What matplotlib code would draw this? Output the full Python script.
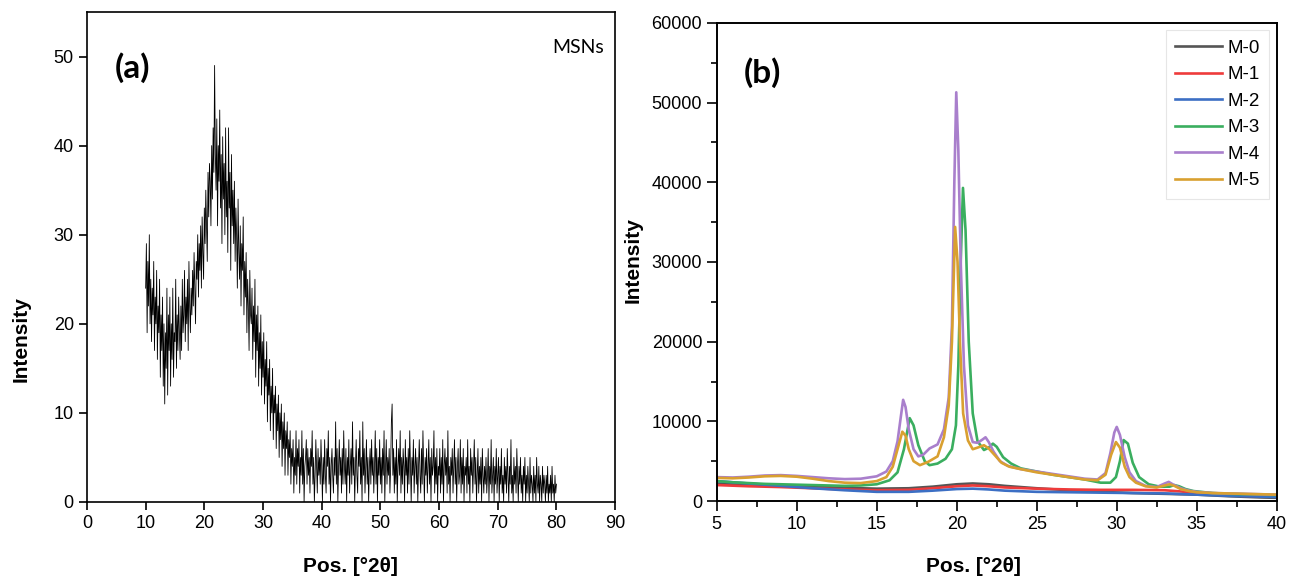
import matplotlib
matplotlib.use("Agg")
import matplotlib.pyplot as plt
import numpy as np
from matplotlib.ticker import MultipleLocator

plt.rcParams['font.family'] = ['Liberation Sans', 'DejaVu Sans']

# ---- (a) MSNs pattern, 10-80 deg at 0.125 deg steps
msn_start, msn_step = 10.0, 0.125
msn_int = [
    24, 29, 19, 27, 22, 30, 20, 25, 18, 24, 21, 27, 17, 23, 20, 26,   # 10-12
    16, 22, 19, 25, 14, 21, 17, 23, 13, 20, 11, 19, 15, 24, 12, 21,   # 12-14
    17, 23, 13, 20, 16, 24, 14, 19, 18, 25, 15, 21, 17, 23, 19, 16,   # 14-16
    22, 17, 25, 19, 21, 26, 18, 23, 20, 25, 17, 27, 22, 19, 24, 21,   # 16-18
    26, 22, 28, 24, 20, 27, 25, 30, 23, 29, 26, 31, 24, 32, 28, 25,   # 18-20
    33, 29, 35, 31, 27, 37, 32, 38, 36, 31, 40, 34, 42, 37, 49, 39,   # 20-22
    35, 43, 31, 40, 36, 44, 33, 39, 29, 41, 34, 38, 30, 42, 32, 36,   # 22-24
    28, 42, 33, 37, 26, 39, 31, 35, 29, 36, 27, 33, 30, 24, 34, 28,   # 24-26
    25, 31, 22, 29, 26, 32, 21, 27, 23, 28, 19, 25, 22, 17, 26, 21,   # 26-28
    20, 24, 16, 22, 18, 25, 14, 21, 17, 22, 13, 19, 15, 21, 12, 18,   # 28-30
    14, 19, 11, 16, 13, 18, 9, 15, 12, 16, 8, 13, 10, 15, 7, 12,      # 30-32
    10, 13, 6, 11, 8, 12, 5, 10, 7, 11, 4, 9, 6, 10, 3, 8,            # 32-34
    6, 9, 3, 7, 5, 8, 2, 6, 4, 7, 1, 5, 3, 8, 2, 6,                   # 34-36
    4, 7, 1, 5, 3, 8, 2, 6, 0, 4, 5, 7, 2, 6, 3, 5,                   # 36-38
    1, 6, 4, 8, 2, 5, 0, 3, 7, 4, 1, 6, 3, 5, 2, 7,                   # 38-40
    4, 0, 5, 2, 7, 3, 1, 6, 4, 8, 2, 5, 0, 4, 6, 3,                   # 40-42
    1, 5, 3, 9, 2, 6, 0, 4, 7, 3, 5, 1, 6, 2, 8, 4,                   # 42-44
    2, 6, 0, 5, 3, 7, 1, 4, 6, 2, 9, 3, 5, 0, 4, 7,                   # 44-46
    3, 1, 6, 4, 8, 2, 5, 0, 9, 3, 6, 1, 4, 7, 2, 5,                   # 46-48
    0, 4, 6, 2, 7, 3, 5, 1, 4, 8, 2, 6, 0, 5, 3, 7,                   # 48-50
    2, 5, 1, 6, 3, 8, 0, 4, 7, 2, 5, 3, 6, 1, 4, 9,                   # 50-52
    11, 3, 6, 1, 5, 2, 7, 0, 4, 6, 3, 8, 1, 5, 2, 6,                  # 52-54
    4, 0, 7, 3, 5, 1, 6, 2, 8, 4, 0, 5, 3, 7, 1, 4,                   # 54-56
    6, 2, 5, 0, 4, 7, 3, 1, 6, 2, 8, 4, 0, 5, 3, 6,                   # 56-58
    1, 4, 7, 2, 5, 0, 6, 3, 4, 8, 1, 5, 2, 6, 0, 4,                   # 58-60
    3, 6, 1, 5, 2, 7, 0, 4, 6, 3, 5, 1, 8, 2, 4, 0,                   # 60-62
    5, 3, 6, 1, 4, 7, 2, 5, 0, 4, 6, 2, 3, 7, 1, 5,                   # 62-64
    2, 6, 0, 4, 3, 5, 1, 7, 2, 4, 0, 6, 3, 5, 1, 4,                   # 64-66
    7, 2, 5, 0, 3, 6, 1, 4, 2, 5, 0, 6, 3, 1, 4, 2,                   # 66-68
    5, 1, 3, 6, 0, 4, 2, 7, 1, 3, 5, 0, 4, 2, 6, 1,                   # 68-70
    3, 5, 0, 4, 2, 6, 1, 3, 0, 5, 2, 4, 1, 6, 3, 0,                   # 70-72
    4, 2, 7, 1, 3, 0, 5, 2, 4, 1, 6, 3, 0, 4, 2, 5,                   # 72-74
    1, 3, 0, 4, 2, 5, 0, 3, 1, 4, 2, 0, 5, 1, 3, 2,                   # 74-76
    0, 4, 1, 3, 0, 5, 2, 1, 4, 0, 3, 2, 0, 4, 1, 3,                   # 76-78
    2, 0, 3, 1, 4, 0, 2, 1, 3, 0, 4, 1, 2, 0, 3, 1,                   # 78-80
    2,
]
msn_pos = msn_start + msn_step * np.arange(len(msn_int))

# ---- (b) samples M-0 ... M-5
m0_x = [5, 7, 9, 11, 13, 15, 17, 18.5, 20, 21, 22, 23, 25, 27, 29, 31, 33, 35, 37, 39, 40]
m0_y = [2200, 2100, 1950, 1800, 1650, 1550, 1600, 1800, 2100, 2200, 2100, 1900, 1600,
        1350, 1150, 1000, 900, 800, 600, 450, 400]

m1_x = [5, 7, 9, 11, 13, 15, 17, 18.5, 20, 21, 22, 23, 25, 27, 29, 31, 33, 34, 35, 36,
        37, 38, 40]
m1_y = [2000, 1850, 1750, 1600, 1450, 1350, 1400, 1600, 1850, 1950, 1850, 1700, 1550,
        1450, 1400, 1400, 1350, 1200, 1000, 850, 700, 650, 600]

m2_x = [5, 7, 9, 11, 13, 15, 17, 18.5, 20, 21, 22, 23, 25, 27, 29, 31, 33, 35, 37, 40]
m2_y = [2500, 2200, 1900, 1600, 1350, 1150, 1150, 1300, 1500, 1550, 1450, 1300, 1150,
        1100, 1050, 1000, 950, 800, 650, 500]

m3_x = [5, 6, 7, 8, 9, 10, 11, 12, 13, 14, 15, 15.8, 16.3, 16.7, 17.06, 17.3, 17.6, 18.0,
        18.3, 18.8, 19.3, 19.7, 19.95, 20.1, 20.25, 20.39, 20.55, 20.75, 21.0, 21.3, 21.7,
        22.0, 22.26, 22.5, 22.9, 23.4, 24, 25, 26, 27, 28, 29, 29.6, 29.95, 30.2, 30.43,
        30.7, 31.0, 31.4, 32, 32.7, 33.3, 33.6, 33.9, 34.3, 34.8, 35.5, 36, 37, 38, 39, 40]
m3_y = [2500, 2350, 2250, 2150, 2100, 2050, 2000, 1950, 1900, 1950, 2100, 2600, 3600,
        6500, 10400, 9500, 7000, 5000, 4500, 4700, 5300, 6500, 9500, 17000, 30000, 39300,
        34000, 20000, 11000, 7500, 6400, 6700, 7200, 6800, 5500, 4700, 4100, 3700, 3300,
        3000, 2700, 2300, 2300, 3000, 5000, 7650, 7200, 4800, 3000, 2100, 1800, 1800, 2000,
        1850, 1500, 1250, 1100, 1000, 900, 850, 800, 750]

m4_x = [5, 6, 7, 8, 9, 10, 11, 12, 13, 14, 15, 15.6, 16.0, 16.3, 16.5, 16.65, 16.8, 17.0,
        17.3, 17.6, 17.9, 18.3, 18.8, 19.2, 19.5, 19.7, 19.85, 19.97, 20.1, 20.25, 20.45,
        20.7, 21.0, 21.3, 21.6, 21.8, 22.0, 22.3, 22.7, 23.2, 24, 25, 26, 27, 28, 28.8,
        29.3, 29.6, 29.85, 30.0, 30.2, 30.5, 30.8, 31.2, 31.8, 32.5, 33.0, 33.25, 33.5,
        34.0, 34.5, 35, 36, 37, 38, 39, 40]
m4_y = [3000, 2950, 3050, 3200, 3250, 3150, 3000, 2850, 2750, 2800, 3100, 3700, 5000,
        7500, 10500, 12700, 11800, 9000, 6500, 5600, 5800, 6600, 7100, 9000, 13000, 22000,
        40000, 51300, 44000, 30000, 17000, 9500, 7400, 7300, 7700, 8000, 7400, 6200, 5000,
        4400, 4000, 3700, 3400, 3100, 2800, 2700, 3500, 6000, 8600, 9300, 8300, 5500, 3600,
        2500, 1900, 1750, 2200, 2400, 2100, 1600, 1300, 1150, 1000, 950, 900, 850, 800]

m5_x = [5, 6, 7, 8, 9, 10, 11, 12, 13, 14, 15, 15.6, 16.0, 16.3, 16.6, 16.8, 17.0, 17.3,
        17.7, 18.2, 18.8, 19.2, 19.5, 19.7, 19.9, 20.05, 20.2, 20.4, 20.7, 21.0, 21.3,
        21.7, 22.0, 22.4, 22.8, 23.3, 24, 25, 26, 27, 28, 28.8, 29.3, 29.65, 29.95, 30.2,
        30.5, 30.8, 31.2, 31.8, 32.5, 33.0, 33.3, 33.6, 34.0, 34.5, 35, 36, 37, 38, 39, 40]
m5_y = [2900, 2850, 2950, 3100, 3150, 3050, 2800, 2500, 2300, 2250, 2500, 3000, 4300,
        6500, 8700, 8200, 6500, 5000, 4500, 4900, 5600, 8000, 12000, 20000, 34400, 30000,
        20000, 11000, 7600, 6500, 6700, 7000, 6600, 5700, 4800, 4300, 4000, 3600, 3300,
        3000, 2700, 2600, 3300, 5800, 7400, 6700, 4300, 3000, 2300, 1850, 1700, 1950, 2100,
        1900, 1500, 1250, 1100, 1000, 950, 900, 850, 800]

series = [
    ("M-0", m0_x, m0_y, "#555555"),
    ("M-1", m1_x, m1_y, "#ee3b3b"),
    ("M-2", m2_x, m2_y, "#3c6fc4"),
    ("M-3", m3_x, m3_y, "#3aae5f"),
    ("M-4", m4_x, m4_y, "#a97fcc"),
    ("M-5", m5_x, m5_y, "#d9a030"),
]

fig = plt.figure(figsize=(12.98, 5.79), dpi=100)

# (a)
ax1 = fig.add_axes([0.067, 0.133, 0.4069, 0.8463])
ax1.plot(msn_pos, msn_int, color="black", lw=0.6)
ax1.set_xlim(0, 90)
ax1.set_ylim(0, 55)
ax1.xaxis.set_major_locator(MultipleLocator(10))
ax1.yaxis.set_major_locator(MultipleLocator(10))
ax1.tick_params(direction="out", length=6, width=1.2, labelsize=13)
for s in ax1.spines.values():
    s.set_linewidth(1.2)
ax1.text(0.087, 0.886, "(a)", transform=ax1.transAxes, ha="center", va="center",
         fontsize=24, fontweight="bold", family=["Lato", "DejaVu Sans"])
ax1.text(0.93, 0.927, "MSNs", transform=ax1.transAxes, ha="center", va="center",
         fontsize=14, family=["Lato", "DejaVu Sans"])
fig.text(0.016, 0.415, "Intensity", rotation=90, ha="center", va="center",
         fontsize=15, fontweight="bold")
fig.text(0.27, 0.022, "Pos. [°2θ]", ha="center", va="center",
         fontsize=15, fontweight="bold")

# (b)
ax2 = fig.add_axes([0.5522, 0.1347, 0.4314, 0.8256])
for name, xs, ys, col in series:
    ax2.plot(xs, ys, color=col, lw=1.9, label=name)
ax2.set_xlim(5, 40)
ax2.set_ylim(0, 60000)
ax2.xaxis.set_major_locator(MultipleLocator(5))
ax2.xaxis.set_minor_locator(MultipleLocator(2.5))
ax2.yaxis.set_major_locator(MultipleLocator(10000))
ax2.yaxis.set_minor_locator(MultipleLocator(5000))
ax2.tick_params(which="major", direction="out", length=7, width=1.2, labelsize=13)
ax2.tick_params(which="minor", direction="out", length=4, width=1.2)
for s in ax2.spines.values():
    s.set_linewidth(1.4)
ax2.text(0.081, 0.897, "(b)", transform=ax2.transAxes, ha="center", va="center",
         fontsize=24, fontweight="bold", family=["Lato", "DejaVu Sans"])
leg = ax2.legend(loc="upper right", bbox_to_anchor=(0.987, 0.985), borderaxespad=0,
                 fontsize=13.5, labelspacing=0.5, handlelength=2.5, handletextpad=0.3,
                 borderpad=0.5, fancybox=False, framealpha=1)
leg.get_frame().set_edgecolor("#e6e6e6")
leg.get_frame().set_linewidth(0.8)
fig.text(0.488, 0.55, "Intensity", rotation=90, ha="center", va="center",
         fontsize=15, fontweight="bold")
fig.text(0.75, 0.022, "Pos. [°2θ]", ha="center", va="center",
         fontsize=15, fontweight="bold")

fig.savefig("out.png", dpi=100)
